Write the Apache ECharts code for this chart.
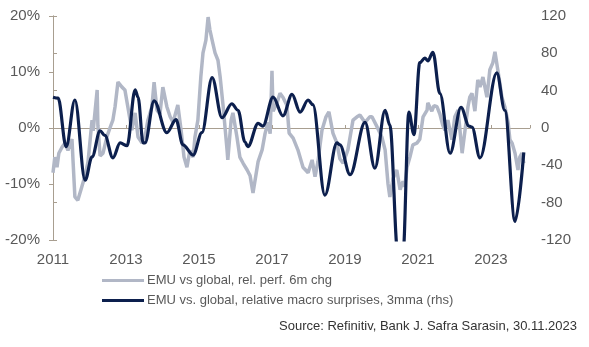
<!DOCTYPE html>
<html>
<head>
<meta charset="utf-8">
<script src="https://cdn.jsdelivr.net/npm/echarts@6/dist/echarts.min.js"></script>
<style>
html,body{margin:0;padding:0;background:#fff;}
#chart{width:589px;height:347px;}
</style>
</head>
<body>
<div id="chart"></div>
<script>
// EMU vs global, rel. perf. 6m chg (%), left axis
const grayYears = [
2011.00,2011.05,2011.11,2011.16,2011.25,2011.33,2011.41,2011.52,2011.55,2011.60,
2011.68,2011.79,2011.88,2011.96,2012.07,2012.10,2012.21,2012.23,2012.29,2012.37,
2012.48,2012.56,2012.64,2012.70,2012.78,2012.89,2012.97,2013.05,2013.16,2013.25,
2013.33,2013.44,2013.52,2013.60,2013.71,2013.77,2013.85,2013.93,2014.01,2014.12,
2014.21,2014.29,2014.42,2014.51,2014.59,2014.67,2014.75,2014.84,2014.89,2014.97,
2015.05,2015.11,2015.19,2015.25,2015.30,2015.36,2015.44,2015.52,2015.58,2015.66,
2015.77,2015.79,2015.88,2015.93,2016.04,2016.12,2016.21,2016.32,2016.40,2016.48,
2016.53,2016.62,2016.73,2016.81,2016.89,2016.95,2017.00,2017.03,2017.08,2017.14,
2017.22,2017.30,2017.41,2017.47,2017.58,2017.71,2017.85,2017.99,2018.10,2018.18,
2018.26,2018.37,2018.48,2018.56,2018.67,2018.78,2018.86,2018.95,2019.08,2019.22,
2019.33,2019.41,2019.55,2019.68,2019.74,2019.88,2020.01,2020.10,2020.18,2020.23,
2020.32,2020.42,2020.51,2020.59,2020.64,2020.70,2020.78,2020.86,2020.97,2021.05,
2021.14,2021.25,2021.27,2021.38,2021.44,2021.52,2021.60,2021.68,2021.74,2021.82,
2021.93,2022.01,2022.10,2022.21,2022.29,2022.37,2022.42,2022.48,2022.56,2022.64,
2022.70,2022.78,2022.89,2022.97,2023.05,2023.11,2023.16,2023.22,2023.30,2023.38,
2023.47,2023.52,2023.58,2023.66,2023.74,2023.79,2023.85,2023.90
];
const grayValues = [
-8,-5.2,-7,-4.5,-3.4,-2.7,-4,-2,-6,-12.3,
-12.9,-10.5,-8.5,-6,1.4,-0.5,6.8,0.5,-5,-4.5,
-1.5,0,1.4,3.8,8.2,7.3,6.8,3.8,-0.4,2.7,
-1.6,-2.7,-1.6,1.4,3.8,8.2,3.2,2.5,7.3,3.8,
2,1,4.1,-0.4,-5.2,-7,-4,-5.2,-1.6,1.4,
9.1,13.4,15.7,19.8,17.5,15.7,13.4,12.1,9.1,4,
-4,-5.7,1.4,2.7,-1.6,-5.2,-6.3,-7.5,-8.5,-11.6,
-11.6,-6,-3.9,-1,1,-1,10.2,3,3.2,4.5,
6.2,5.5,4,-0.9,-1.8,-3.9,-7,-8,-5.7,-8.7,
-6,-0.4,2,2.9,-0.9,-2.7,-5.5,-6.3,-3.9,1.4,
2,2.3,1,2,2,0.2,-1.6,-3.9,-10,-12.3,
-9,-7.5,-11,-9.5,-10.5,-7,-5.2,-3,-2.7,-2,
2,3.2,4.5,3,4,3.8,2.5,0.5,-0.4,1.4,
-2.1,2,3.2,-4.5,-0.4,3.8,5.5,6.2,3,8.6,
7.3,9.1,5.5,10.4,11.6,13.6,13.9,9,5.5,3.8,
1,-2.1,-2.7,-4.5,-7.5,-5.2,-4.5,-6.3
];
// EMU vs. global, relative macro surprises, 3mma (rhs)
const navyYears = [
2011.00,2011.14,2011.36,2011.60,2011.88,2012.07,2012.29,2012.42,2012.64,2012.84,
2013.03,2013.25,2013.33,2013.47,2013.52,2013.77,2014.12,2014.37,2014.56,2014.84,
2015.08,2015.36,2015.63,2015.90,2016.07,2016.26,2016.34,2016.62,2016.75,2017.03,
2017.30,2017.55,2017.77,2017.99,2018.12,2018.45,2018.78,2018.86,2019.14,2019.55,
2019.82,2020.10,2020.23,2020.45,2020.59,2020.75,2020.89,2021.05,2021.19,2021.27,
2021.41,2021.60,2021.88,2022.18,2022.40,2022.48,2022.70,2023.16,2023.38,2023.66,
2023.90
];
const navyValues = [
33,32,-20,30,-56,-31,-3,-8,-32,-16,
-19,41,33,-16,-16,29,-5,9,-18,-29,
-5,54,11,26,19,-15,-20,5,2,33,
13,36,17,30,25,-72,-16,-18,-50,6,
-43,19,3,-135,-135,17,-7,70,75,72,
81,37,-27,22,2,1,-32,59,19,-100,
-26
];
const baseYear = 2011;
const axisEnd = 2024.07;
const leftTicks = {min: -20, max: 20, interval: 10};
const rightTicks = {min: -120, max: 120, interval: 40};
const seriesNames = ['EMU vs global, rel. perf. 6m chg', 'EMU vs. global, relative macro surprises, 3mma (rhs)'];
const sourceText = 'Source: Refinitiv, Bank J. Safra Sarasin, 30.11.2023';

const FONT = '"Liberation Sans", Arial, sans-serif';
const AXIS_COLOR = '#a89e90';
const TEXT_COLOR = '#595959';
const GRAY = '#b1b7c6';
const NAVY = '#0c1f4d';

const grayData = grayYears.map((t, i) => [t - baseYear, grayValues[i]]);
const navyData = navyYears.map((t, i) => [t - baseYear, navyValues[i]]);

const chart = echarts.init(document.getElementById('chart'), null, {renderer: 'canvas'});
chart.setOption({
  animation: false,
  backgroundColor: '#ffffff',
  textStyle: {fontFamily: FONT},
  grid: {left: 53, right: 59, top: 16, bottom: 107, containLabel: false},
  legend: {
    orient: 'vertical', left: 97, top: 269, itemWidth: 42, itemHeight: 3, itemGap: 7,
    icon: 'rect',
    textStyle: {fontFamily: FONT, fontSize: 13, color: TEXT_COLOR, padding: [0,0,0,-2]},
    data: seriesNames
  },
  graphic: [{
    type: 'text', right: 12, top: 320,
    style: {text: sourceText, font: '13px ' + FONT, fill: '#333333'}
  }],
  xAxis: [{
    type: 'value', min: 0, max: axisEnd - baseYear, interval: 2, position: 'bottom',
    axisLine: {show: false, onZero: false}, axisTick: {show: false}, splitLine: {show: false},
    axisLabel: {formatter: v => String(baseYear + v), fontSize: 15, color: TEXT_COLOR, margin: 12,
      showMaxLabel: false, fontFamily: FONT}
  }, {
    type: 'value', min: 0, max: axisEnd - baseYear, interval: 2, position: 'top',
    axisLine: {show: true, onZero: true, onZeroAxisIndex: 0, lineStyle: {color: AXIS_COLOR, width: 1}},
    axisTick: {show: true, inside: false, length: 3, lineStyle: {color: AXIS_COLOR}},
    axisLabel: {show: false}, splitLine: {show: false}
  }],
  yAxis: [{
    type: 'value', min: leftTicks.min, max: leftTicks.max, interval: leftTicks.interval, position: 'left',
    axisLine: {show: true, lineStyle: {color: AXIS_COLOR}},
    axisTick: {show: true, length: 4, lineStyle: {color: AXIS_COLOR}},
    splitLine: {show: false},
    axisLabel: {formatter: '{value}%', fontSize: 15, color: TEXT_COLOR, margin: 13, fontFamily: FONT}
  }, {
    type: 'value', min: rightTicks.min, max: rightTicks.max, interval: rightTicks.interval, position: 'right',
    axisLine: {show: true, lineStyle: {color: AXIS_COLOR}},
    axisTick: {show: true, length: 4, lineStyle: {color: AXIS_COLOR}},
    splitLine: {show: false},
    axisLabel: {fontSize: 15, color: TEXT_COLOR, margin: 11, fontFamily: FONT}
  }],
  series: [{
    name: seriesNames[0], type: 'line', xAxisIndex: 0, yAxisIndex: 0,
    data: grayData, showSymbol: false, symbol: 'none', smooth: false,
    lineStyle: {color: GRAY, width: 3.5}, itemStyle: {color: GRAY}, z: 2
  }, {
    name: seriesNames[1], type: 'line', xAxisIndex: 0, yAxisIndex: 1,
    data: navyData, showSymbol: false, symbol: 'none', smooth: 0.35, smoothMonotone: 'x', clip: true,
    lineStyle: {color: NAVY, width: 3.2}, itemStyle: {color: NAVY}, z: 3
  }]
});
</script>
</body>
</html>
